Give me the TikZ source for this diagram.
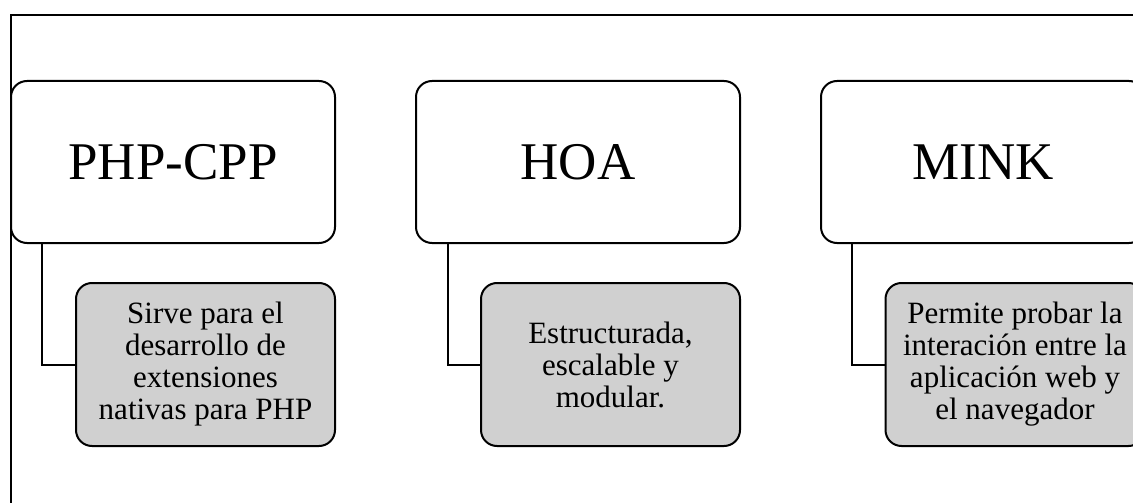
\documentclass[tikz,border=0pt]{standalone}
\usepackage{fontspec}
\setmainfont{Liberation Serif}
\definecolor{boxgray}{RGB}{208,208,208}
\tikzset{
  topbox/.style={draw=black, line width=2pt, rounded corners=16pt, fill=white,
    minimum width=324pt, minimum height=162pt, inner sep=0pt,
    font=\fontsize{53}{60}\selectfont},
  subbox/.style={draw=black, line width=2pt, rounded corners=16pt, fill=boxgray,
    minimum width=259pt, minimum height=163pt, inner sep=0pt, align=center,
    font=\fontsize{31}{32}\selectfont},
  link/.style={draw=black, line width=2pt},
  frameline/.style={draw=black, line width=1.6pt}
}
\begin{document}
\begin{tikzpicture}[x=1pt,y=-1pt]
\useasboundingbox (0,0) rectangle (1133,503);
\clip (0,0) rectangle (1133,503);
\fill[white] (0,0) rectangle (1133,503);
\coordinate (fbl) at (11,520);
\coordinate (ftl) at (11,15);
\coordinate (ftr) at (1150,15);
\draw[frameline] (fbl) -- (ftl) -- (ftr);
\node[topbox] (t1) at (173,162) {PHP-CPP};
\node[topbox] (t2) at (578,162) {HOA};
\node[topbox] (t3) at (983,162) {MINK};
\node[subbox] (b1) at (205.5,364.5) {Sirve para el\\ desarrollo de\\ extensiones\\ nativas para PHP};
\node[subbox] (b2) at (610.5,364.5) {Estructurada,\\ escalable y\\ modular.};
\node[subbox] (b3) at (1015,364.5) {Permite probar la\\ interación entre la\\ aplicación web y\\ el navegador};
\draw[link] ([xshift=32pt]t1.south west) |- (b1.west);
\draw[link] ([xshift=33pt]t2.south west) |- (b2.west);
\draw[link] ([xshift=32pt]t3.south west) |- (b3.west);
\end{tikzpicture}
\end{document}
